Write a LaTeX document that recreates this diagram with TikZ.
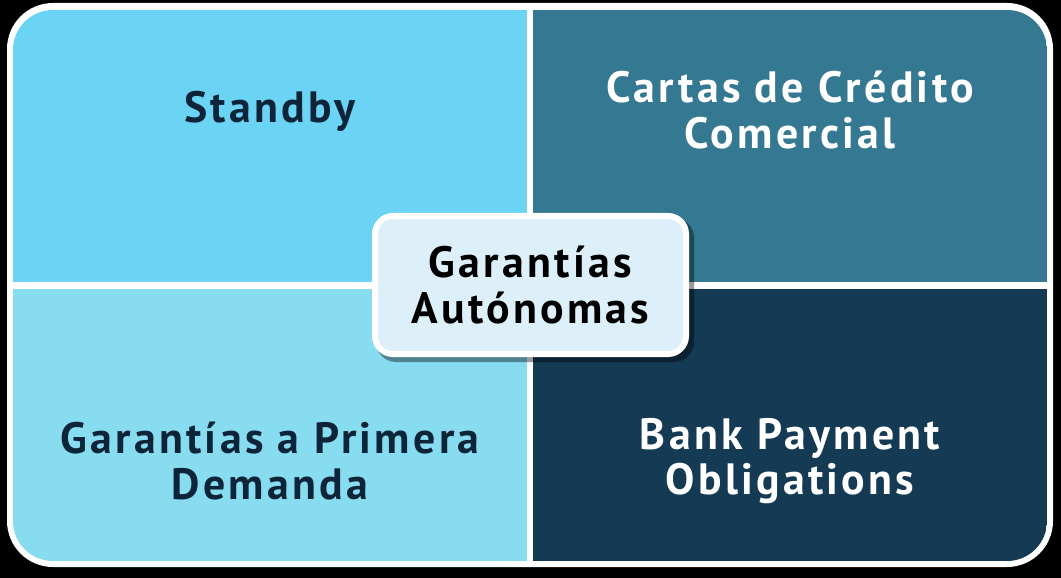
\documentclass[tikz,border=0pt]{standalone}
\usepackage{fontspec}
\setmainfont{PT Sans}[LetterSpace=7.5]
\usetikzlibrary{shadows}
\definecolor{tlc}{RGB}{107,212,245}
\definecolor{trc}{RGB}{53,120,146}
\definecolor{blc}{RGB}{136,220,240}
\definecolor{brc}{RGB}{20,58,84}
\definecolor{cenc}{RGB}{221,240,250}
\definecolor{darktext}{RGB}{14,36,56}
\tikzset{
  lab/.style={align=center, font=\bfseries\fontsize{44}{46}\selectfont, inner sep=0pt},
  darklab/.style={lab, text=darktext},
  lightlab/.style={lab, text=white},
}
\begin{document}
\begin{tikzpicture}[x=1bp,y=-1bp]
\fill[black] (0,0) rectangle (1061,578);
\useasboundingbox (0,0) rectangle (1061,578);
\fill[white, rounded corners=46bp] (7,3) rectangle (1053,567);
\begin{scope}
\clip[rounded corners=40bp] (13,10) rectangle (1047,561);
\fill[tlc] (13,10) rectangle (527,282);
\fill[trc] (533,10) rectangle (1047,282);
\fill[blc] (13,289) rectangle (527,561);
\fill[brc] (533,289) rectangle (1047,561);
\end{scope}
\node[darklab] (tl) at (270,111) {Standby};
\node[lightlab] (tr) at (790,110) {Cartas de Crédito\\Comercial};
\node[darklab] (bl) at (270,461) {Garantías a Primera\\Demanda};
\node[lightlab] (br) at (790,461) {Bank Payment\\Obligations};
\fill[black, opacity=0.4, rounded corners=20bp] (376,218) rectangle (694,362);
\node[draw=white, line width=6bp, fill=cenc, rounded corners=18bp,
      minimum width=311bp, minimum height=138bp, inner sep=0pt] (c) at (530.5,285) {};
\node[darklab, text=black] (ct) at (c.center) {Garantías\\Autónomas};
\end{tikzpicture}
\end{document}
